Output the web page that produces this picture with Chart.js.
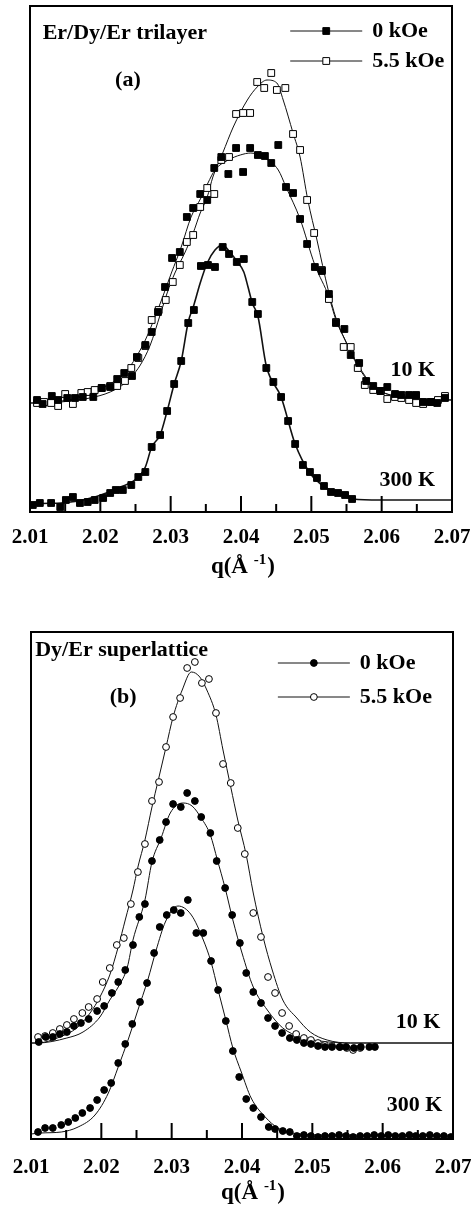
<!DOCTYPE html>
<html>
<head>
<meta charset="utf-8">
<script src="https://cdn.jsdelivr.net/npm/chart.js"></script>
<style>
  body { margin: 0; background: #fff; }
  .panel { position: absolute; left: 0; width: 472px; }
  #wrapA { top: 0; height: 600px; }
  #wrapB { top: 610px; height: 604px; }
</style>
</head>
<body>
<div class="panel" id="wrapA"><canvas id="chartA"></canvas></div>
<div class="panel" id="wrapB"><canvas id="chartB"></canvas></div>
<script>
// x axis ticks, q in 1/Angstrom
const qTicks = [2.01, 2.02, 2.03, 2.04, 2.05, 2.06, 2.07];

// ---- panel (a): Er/Dy/Er trilayer, intensity in arb. units ----
const a10K0_q = [2.0110,2.0118,2.0131,2.0140,2.0153,2.0164,2.0175,2.0190,2.0202,2.0214,2.0224,2.0234,2.0245,2.0252,2.0264,2.0273,2.0282,2.0292,2.0302,2.0313,2.0323,2.0332,2.0342,2.0352,2.0362,2.0372,2.0382,2.0393,2.0403,2.0413,2.0424,2.0434,2.0443,2.0453,2.0464,2.0474,2.0484,2.0494,2.0505,2.0515,2.0525,2.0535,2.0547,2.0556,2.0568,2.0578,2.0588,2.0598,2.0608,2.0619,2.0628,2.0639,2.0649,2.0659,2.0670,2.0679,2.0690];
const a10K0_y = [112,108,116,112,114,114,115,115,124,125,133,139,136,155,167,180,200,225,254,260,295,304,318,312,344,355,338,364,340,364,357,356,349,367,325,319,293,268,245,241,218,189,183,157,149,131,126,121,125,118,117,117,117,110,110,109,114];

const a10K55_q = [2.0110,2.0120,2.0130,2.0140,2.0150,2.0161,2.0173,2.0182,2.0192,2.0202,2.0214,2.0224,2.0235,2.0244,2.0254,2.0264,2.0273,2.0283,2.0293,2.0303,2.0313,2.0323,2.0332,2.0342,2.0352,2.0362,2.0372,2.0383,2.0393,2.0403,2.0413,2.0423,2.0433,2.0443,2.0451,2.0463,2.0474,2.0484,2.0494,2.0504,2.0515,2.0525,2.0535,2.0546,2.0556,2.0566,2.0576,2.0588,2.0599,2.0608,2.0619,2.0628,2.0639,2.0649,2.0659,2.0670,2.0680,2.0690];
const a10K55_y = [109,110,109,106,118,108,119,120,122,124,126,126,131,144,154,166,192,202,212,230,247,270,277,305,324,318,352,355,398,399,399,430,424,439,422,424,378,362,312,279,242,213,190,165,165,144,127,122,121,113,115,114,112,109,108,110,112,116];

const a300K_q = [2.0104,2.0114,2.0130,2.0143,2.0151,2.0161,2.0171,2.0182,2.0192,2.0204,2.0214,2.0222,2.0232,2.0244,2.0254,2.0264,2.0273,2.0285,2.0295,2.0305,2.0315,2.0325,2.0333,2.0343,2.0353,2.0363,2.0374,2.0383,2.0394,2.0404,2.0416,2.0424,2.0436,2.0446,2.0457,2.0467,2.0477,2.0488,2.0498,2.0508,2.0518,2.0528,2.0538,2.0548,2.0558];
const a300K_y = [7,9,9,5,12,15,9,10,12,14,19,22,22,27,35,40,65,77,101,128,151,189,202,246,247,245,265,258,250,253,210,198,144,130,115,91,68,47,40,34,26,20,19,17,13];

// fitted curves
const fitA10K0_q = [2.0100,2.0111,2.0154,2.0182,2.0211,2.0235,2.0251,2.0264,2.0272,2.0287,2.0301,2.0315,2.0329,2.0343,2.0353,2.0363,2.0382,2.0399,2.0414,2.0434,2.0453,2.0464,2.0484,2.0505,2.0525,2.0535,2.0548,2.0569,2.0591,2.0619,2.0655,2.0700];
const fitA10K0_y = [109,109,112,117,127,139,155,172,185,212,239,265,295,314,329,342,352,357,359,354,342,325,293,247,215,192,172,144,124,116,113,112];
const fitA10K55_q = [2.0100,2.0143,2.0185,2.0214,2.0235,2.0256,2.0271,2.0285,2.0295,2.0306,2.0320,2.0332,2.0342,2.0352,2.0360,2.0374,2.0389,2.0409,2.0423,2.0437,2.0451,2.0460,2.0474,2.0484,2.0495,2.0508,2.0524,2.0535,2.0548,2.0566,2.0586,2.0612,2.0655,2.0700];
const fitA10K55_y = [109,110,114,120,129,146,167,197,219,239,259,279,299,315,335,359,385,412,425,432,429,412,379,355,312,272,222,194,172,146,127,117,113,112];
const fitA300K_q = [2.0100,2.0107,2.0144,2.0192,2.0229,2.0249,2.0264,2.0273,2.0285,2.0295,2.0305,2.0315,2.0325,2.0333,2.0342,2.0352,2.0363,2.0374,2.0384,2.0394,2.0404,2.0410,2.0416,2.0424,2.0436,2.0457,2.0477,2.0498,2.0519,2.0537,2.0559,2.0598,2.0700];
const fitA300K_y = [6,8,9,15,25,32,45,65,77,101,128,151,190,207,229,249,262,267,260,251,240,225,209,196,146,115,68,39,25,19,13,12,12];

// ---- panel (b): Dy/Er superlattice ----
const b10K0_q = [2.0111,2.0121,2.0131,2.0141,2.0151,2.0161,2.0171,2.0182,2.0194,2.0204,2.0215,2.0224,2.0234,2.0245,2.0254,2.0262,2.0272,2.0283,2.0292,2.0302,2.0313,2.0322,2.0333,2.0342,2.0355,2.0364,2.0376,2.0386,2.0397,2.0406,2.0416,2.0427,2.0437,2.0447,2.0457,2.0468,2.0478,2.0488,2.0498,2.0508,2.0518,2.0528,2.0539,2.0548,2.0559,2.0569,2.0581,2.0589];
const b10K0_y = [97,102,102,105,107,113,116,120,128,133,146,157,169,194,222,235,278,299,317,335,332,346,338,322,306,278,251,224,196,166,147,136,121,113,106,101,99,96,95,93,92,92,92,92,91,92,92,92];

const b10K55_q = [2.0110,2.0120,2.0131,2.0141,2.0151,2.0161,2.0173,2.0182,2.0194,2.0202,2.0212,2.0222,2.0232,2.0242,2.0252,2.0262,2.0272,2.0282,2.0292,2.0302,2.0312,2.0322,2.0333,2.0343,2.0353,2.0363,2.0373,2.0384,2.0394,2.0404,2.0416,2.0427,2.0437,2.0447,2.0457,2.0467,2.0477,2.0488,2.0498,2.0508,2.0518,2.0528,2.0539,2.0549,2.0558,2.0568];
const b10K55_y = [102,103,106,110,114,120,126,132,140,157,171,194,201,235,267,295,338,357,392,422,441,471,477,456,460,426,375,356,311,285,226,202,162,146,126,113,105,101,99,96,94,93,92,91,89,91];

const b300K_q = [2.0110,2.0120,2.0131,2.0143,2.0153,2.0163,2.0173,2.0184,2.0194,2.0204,2.0214,2.0224,2.0234,2.0244,2.0255,2.0265,2.0275,2.0283,2.0293,2.0303,2.0313,2.0323,2.0335,2.0345,2.0356,2.0366,2.0377,2.0387,2.0396,2.0406,2.0416,2.0427,2.0438,2.0447,2.0458,2.0468,2.0478,2.0488,2.0498,2.0508,2.0518,2.0528,2.0538,2.0548,2.0558,2.0568,2.0578,2.0588,2.0598,2.0608,2.0618,2.0628,2.0638,2.0647,2.0657,2.0667,2.0677,2.0687,2.0697];
const b300K_y = [7,11,11,14,17,21,26,31,39,49,56,76,95,115,137,156,186,212,224,229,226,239,206,206,178,149,118,88,62,40,31,22,12,10,8,7,3,4,3,2,3,3,4,3,2,3,3,4,3,4,3,3,4,3,3,4,3,3,2];

// fitted curves
const fitB10K0_q = [2.0100,2.0109,2.0151,2.0174,2.0198,2.0212,2.0224,2.0237,2.0245,2.0262,2.0272,2.0285,2.0298,2.0316,2.0329,2.0342,2.0355,2.0365,2.0376,2.0387,2.0400,2.0416,2.0436,2.0458,2.0483,2.0511,2.0554,2.0700];
const fitB10K0_y = [96,96,101,107,122,139,152,172,199,239,277,301,326,336,333,321,304,279,251,219,186,152,129,111,102,98,96,96];
const fitB10K55_q = [2.0100,2.0109,2.0141,2.0165,2.0184,2.0198,2.0212,2.0224,2.0234,2.0245,2.0252,2.0262,2.0272,2.0281,2.0292,2.0302,2.0315,2.0328,2.0340,2.0350,2.0363,2.0373,2.0384,2.0394,2.0406,2.0416,2.0430,2.0443,2.0458,2.0478,2.0497,2.0521,2.0554,2.0700];
const fitB10K55_y = [96,96,102,111,126,142,164,192,219,249,272,299,332,359,392,422,449,467,462,449,424,389,352,319,284,246,202,169,139,121,107,99,96,96];
const fitB300K_q = [2.0100,2.0114,2.0143,2.0167,2.0191,2.0210,2.0224,2.0238,2.0252,2.0266,2.0278,2.0291,2.0309,2.0328,2.0345,2.0356,2.0366,2.0377,2.0387,2.0399,2.0413,2.0433,2.0451,2.0470,2.0529,2.0700];
const fitB300K_y = [5,6,7,12,24,46,72,99,129,159,189,217,233,224,199,177,149,119,91,67,41,22,11,6,4,4];

const FONT = '"Liberation Serif", "Times New Roman", serif';
Chart.defaults.font.family = FONT;
Chart.defaults.font.weight = 'bold';
Chart.defaults.color = '#000';

function pts(qs, ys) {
    return qs.map((q, i) => ({x: q, y: ys[i]}));
}

function markers(label, qs, ys, style, filled, r, row) {
    return {
        label: label,
        data: pts(qs, ys),
        showLine: false,
        pointStyle: style,
        pointRadius: r,
        pointHoverRadius: r,
        pointBackgroundColor: filled ? '#000' : '#fff',
        pointBorderColor: '#000',
        pointBorderWidth: 1,
        legendRow: row
    };
}

function fit(qs, ys, w) {
    return {
        data: pts(qs, ys),
        showLine: true,
        pointRadius: 0,
        borderColor: '#111',
        borderWidth: w,
        cubicInterpolationMode: 'monotone',
        fill: false
    };
}

function drawMarker(ctx, style, r, fill, px, py) {
    ctx.fillStyle = fill;
    ctx.strokeStyle = '#000';
    ctx.lineWidth = 1;
    ctx.beginPath();
    if (style === 'rect') {
        let s = r * Math.SQRT1_2;
        ctx.rect(px - s, py - s, 2 * s, 2 * s);
    } else {
        ctx.arc(px, py, r, 0, 2 * Math.PI);
    }
    ctx.fill();
    ctx.stroke();
}

// frame, inside tick marks, notes, legend and axis title
const decor = {
    id: 'decor',
    afterDraw(chart, args, o) {
        const ctx = chart.ctx;
        const a = chart.chartArea;
        const xs = chart.scales.x, ys = chart.scales.y;
        ctx.save();
        ctx.strokeStyle = '#000';
        ctx.lineWidth = 2;
        let majors = xs.ticks.map(t => t.value);
        majors.forEach((v, i) => {
            let px = xs.getPixelForValue(v);
            ctx.beginPath();
            ctx.moveTo(px, a.bottom);
            ctx.lineTo(px, a.bottom - o.majorLen);
            ctx.stroke();
            if (i < majors.length - 1) {
                let mx = xs.getPixelForValue((v + majors[i + 1]) / 2);
                ctx.beginPath();
                ctx.moveTo(mx, a.bottom);
                ctx.lineTo(mx, a.bottom - o.minorLen);
                ctx.stroke();
            }
        });
        ctx.strokeRect(a.left, a.top, a.right - a.left, a.bottom - a.top);

        ctx.fillStyle = '#000';
        ctx.textBaseline = 'middle';
        o.notes.forEach(n => {
            ctx.font = 'bold ' + n.size + 'px ' + FONT;
            ctx.textAlign = n.align;
            ctx.fillText(n.text, xs.getPixelForValue(n.q), ys.getPixelForValue(n.y));
        });

        // legend: line with marker in the middle, then label
        const lg = o.legend;
        let lx = xs.getPixelForValue(lg.q);
        chart.data.datasets.forEach(d => {
            if (d.legendRow === undefined) return;
            let ly = ys.getPixelForValue(lg.rows[d.legendRow]);
            ctx.strokeStyle = '#111';
            ctx.lineWidth = 1;
            ctx.beginPath();
            ctx.moveTo(lx, ly);
            ctx.lineTo(lx + lg.lineLen, ly);
            ctx.stroke();
            drawMarker(ctx, d.pointStyle, d.pointRadius, d.pointBackgroundColor, lx + lg.lineLen / 2, ly);
            ctx.fillStyle = '#000';
            ctx.font = 'bold ' + lg.size + 'px ' + FONT;
            ctx.textAlign = 'left';
            ctx.fillText(d.label, lx + lg.lineLen + lg.gap, ly);
        });

        // axis title q(Å -1) with raised exponent
        const t = o.axisTitle;
        ctx.font = 'bold 23px ' + FONT;
        let w1 = ctx.measureText('q(\u00C5 ').width;
        let w3 = ctx.measureText(')').width;
        ctx.font = 'bold 15px ' + FONT;
        let w2 = ctx.measureText('-1').width;
        let cx = xs.getPixelForValue(t.q);
        let cy = a.bottom + t.dy;
        let x0 = cx - (w1 + w2 + w3) / 2;
        ctx.textAlign = 'left';
        ctx.font = 'bold 23px ' + FONT;
        ctx.fillText('q(\u00C5 ', x0, cy);
        ctx.font = 'bold 15px ' + FONT;
        ctx.fillText('-1', x0 + w1, cy - 7);
        ctx.font = 'bold 23px ' + FONT;
        ctx.fillText(')', x0 + w1 + w2 + 1, cy);
        ctx.restore();
    }
};

function makeChart(id, datasets, cfg) {
    let ctx = document.getElementById(id).getContext('2d');
    return new Chart(ctx, {
        type: 'line',
        data: { datasets: datasets },
        plugins: [decor],
        options: {
            responsive: true,
            maintainAspectRatio: false,
            animation: false,
            events: [],
            layout: { padding: cfg.padding },
            scales: {
                x: {
                    type: 'linear',
                    min: 2.01,
                    max: 2.07,
                    grid: { display: false },
                    border: { display: false },
                    afterBuildTicks: s => { s.ticks = qTicks.map(v => ({ value: v })); },
                    afterFit: s => { s.height = cfg.axisHeight; },
                    ticks: {
                        padding: 0,
                        maxRotation: 0,
                        autoSkip: false,
                        font: { size: 21, weight: 'bold', lineHeight: cfg.tickLineHeight },
                        callback: v => Number(v).toFixed(2)
                    }
                },
                y: { display: false, min: 0, max: cfg.yMax }
            },
            plugins: {
                legend: { display: false },
                tooltip: { enabled: false },
                decor: cfg.decor
            }
        }
    });
}

makeChart('chartA', [
    markers('0 kOe', a10K0_q, a10K0_y, 'rect', true, 4.8, 0),
    markers('0 kOe 300 K', a300K_q, a300K_y, 'rect', true, 4.8),
    markers('5.5 kOe', a10K55_q, a10K55_y, 'rect', false, 4.8, 1),
    fit(fitA10K0_q, fitA10K0_y, 1),
    fit(fitA10K55_q, fitA10K55_y, 1),
    fit(fitA300K_q, fitA300K_y, 1.6)
], {
    padding: { left: 30, right: 20, top: 6, bottom: 0 },
    axisHeight: 88,
    tickLineHeight: 1.7,
    yMax: 506,
    decor: {
        majorLen: 16,
        minorLen: 8,
        notes: [
            { text: 'Er/Dy/Er trilayer', q: 2.0118, y: 479, align: 'left', size: 22 },
            { text: '(a)', q: 2.0221, y: 432, align: 'left', size: 22 },
            { text: '10 K', q: 2.0676, y: 142, align: 'right', size: 22 },
            { text: '300 K', q: 2.0676, y: 32, align: 'right', size: 22 }
        ],
        legend: { q: 2.0470, rows: [481, 451], lineLen: 72, gap: 10, size: 22 },
        axisTitle: { q: 2.0402, dy: 55 }
    }
});

makeChart('chartB', [
    markers('0 kOe', b10K0_q, b10K0_y, 'circle', true, 3.4, 0),
    markers('0 kOe 300 K', b300K_q, b300K_y, 'circle', true, 3.4),
    markers('5.5 kOe', b10K55_q, b10K55_y, 'circle', false, 3.4, 1),
    fit(fitB10K0_q, fitB10K0_y, 1),
    fit(fitB10K55_q, fitB10K55_y, 1),
    fit(fitB300K_q, fitB300K_y, 1)
], {
    padding: { left: 31, right: 19, top: 22, bottom: 0 },
    axisHeight: 75,
    tickLineHeight: 1.95,
    yMax: 507,
    decor: {
        majorLen: 16,
        minorLen: 9,
        notes: [
            { text: 'Dy/Er superlattice', q: 2.0106, y: 489, align: 'left', size: 22 },
            { text: '(b)', q: 2.0212, y: 442, align: 'left', size: 22 },
            { text: '10 K', q: 2.0682, y: 117, align: 'right', size: 22 },
            { text: '300 K', q: 2.0685, y: 34, align: 'right', size: 22 }
        ],
        legend: { q: 2.0451, rows: [476, 442], lineLen: 72, gap: 10, size: 22 },
        axisTitle: { q: 2.0415, dy: 54 }
    }
});
</script>
</body>
</html>
